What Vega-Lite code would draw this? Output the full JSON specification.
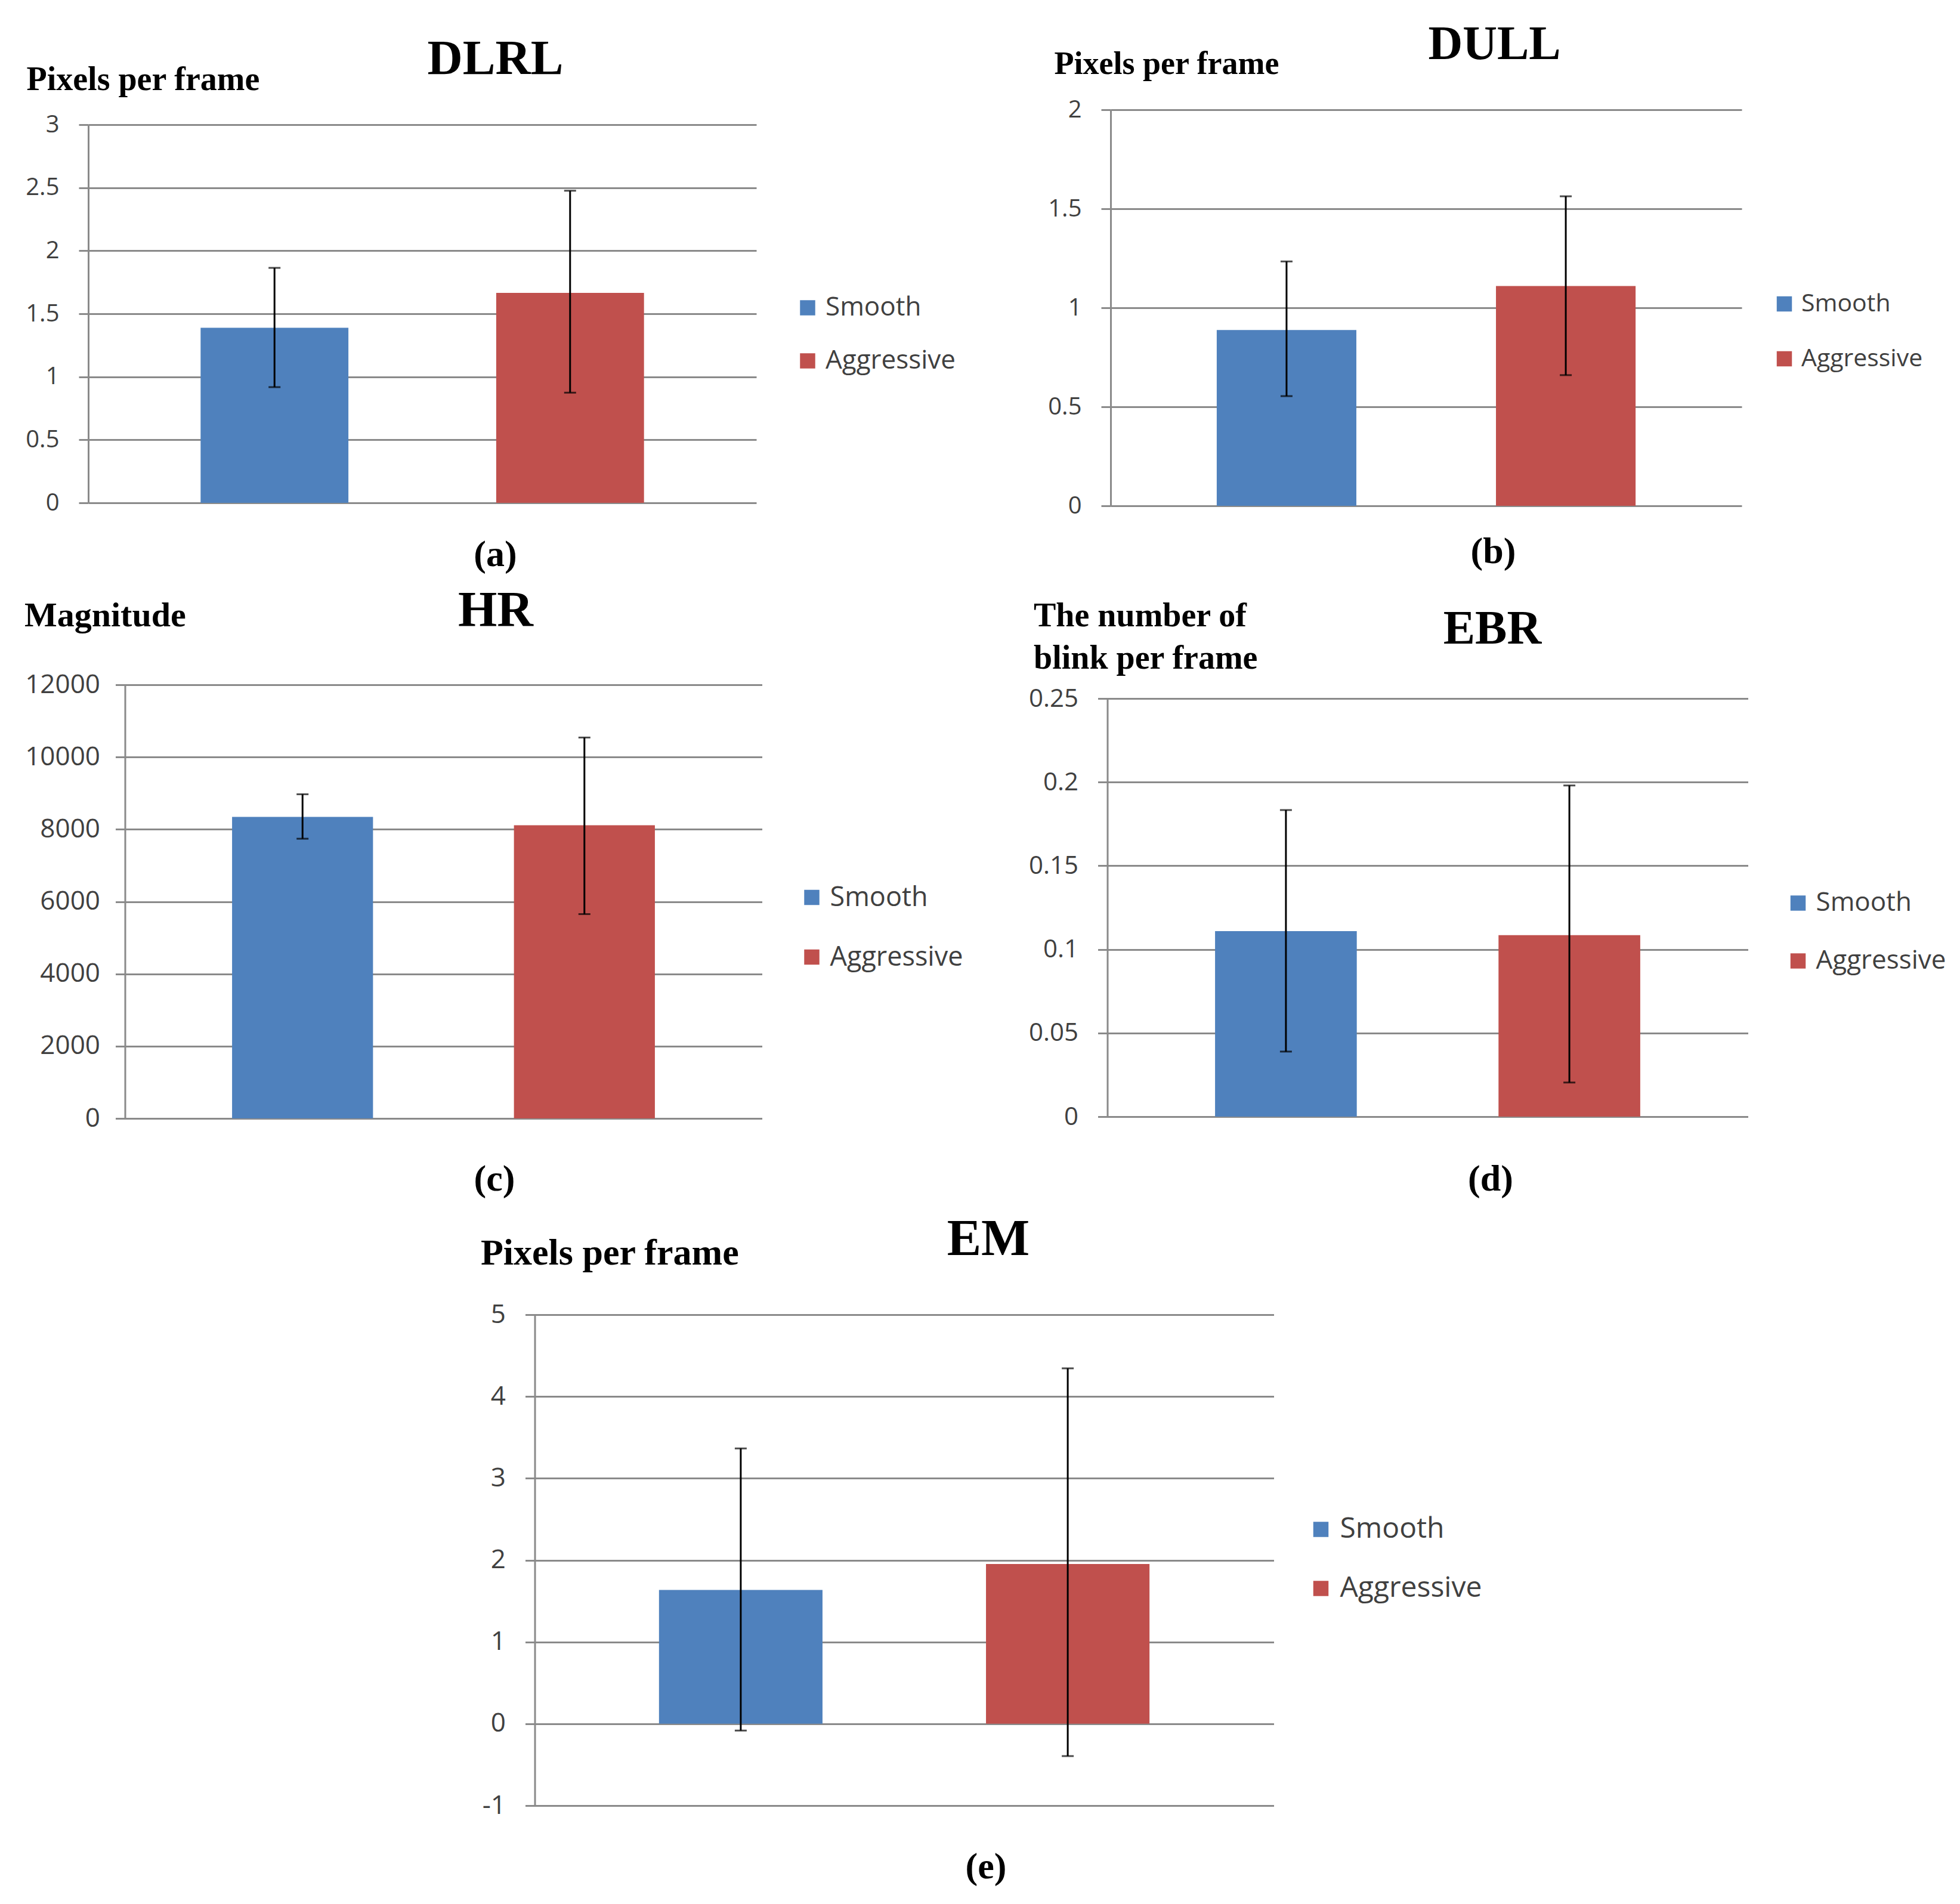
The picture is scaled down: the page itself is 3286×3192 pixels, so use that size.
{
"$schema":"https://vega.github.io/schema/vega-lite/v6.json",
"background":"white",
"padding":{"left":40,"top":34,"right":5,"bottom":5},
"datasets":{
"a":[{"series":"Smooth","mean":1.389,"lo":0.918,"hi":1.864},{"series":"Aggressive","mean":1.666,"lo":0.874,"hi":2.476}],
"b":[{"series":"Smooth","mean":0.888,"lo":0.554,"hi":1.234},{"series":"Aggressive","mean":1.110,"lo":0.660,"hi":1.563}],
"c":[{"series":"Smooth","mean":8344,"lo":7740,"hi":8970},{"series":"Aggressive","mean":8114,"lo":5654,"hi":10540}],
"d":[{"series":"Smooth","mean":0.1109,"lo":0.0389,"hi":0.1833},{"series":"Aggressive","mean":0.1085,"lo":0.0204,"hi":0.198}],
"e":[{"series":"Smooth","mean":1.635,"lo":-0.083,"hi":3.365},{"series":"Aggressive","mean":1.952,"lo":-0.395,"hi":4.344}]
},
"spacing":27,
"center":true,
"resolve":{"scale":{"x":"independent","y":"independent","color":"independent"},"legend":{"color":"independent"},"axis":{"x":"independent","y":"independent"}},
"vconcat":[
{"vconcat":[
{"hconcat":[
{"width":1120,"height":659,"data":{"name":"a"},"resolve":{"axis":{"x":"independent"}},
"layer":[
{"mark":{"type":"bar"},"encoding":{
"x":{"field":"series","type":"nominal","sort":null,"scale":{"domain":["Smooth","Aggressive"],"paddingInner":0.5,"paddingOuter":0.38},"axis":{"orient":"bottom","title":"(a)","labels":false,"ticks":false,"domain":false,"titleX":682,"titleY":105,"titleBaseline":"alphabetic","titleFontSize":62}},
"y":{"field":"mean","type":"quantitative","scale":{"domain":[0,3],"nice":false,"range":[659,25]},"axis":{"values":[0,0.5,1,1.5,2,2.5,3],"labelExpr":"''+datum.value","title":"Pixels per frame","titleX":-104,"titleY":-22,"titleFontSize":56,"labelFontSize":40}},
"color":{"field":"series","type":"nominal","scale":{"domain":["Smooth","Aggressive"],"range":["#4F81BD","#C0504D"]},"legend":{"title":null,"orient":"none","legendX":1184,"legendY":310,"labelFontSize":44,"rowPadding":45}}}},
{"mark":{"type":"rule","color":"#000","strokeWidth":3},"encoding":{
"x":{"field":"series","type":"nominal","sort":null,"axis":{"orient":"top","title":"DLRL","labels":false,"ticks":false,"domain":false,"titleX":682,"titleY":-61,"titleBaseline":"alphabetic","titleFontSize":82}},
"y":{"field":"lo","type":"quantitative"},"y2":{"field":"hi"}}},
{"mark":{"type":"tick","color":"#000","thickness":3,"size":20},"encoding":{"x":{"field":"series","type":"nominal","sort":null,"axis":null},"y":{"field":"lo","type":"quantitative"}}},
{"mark":{"type":"tick","color":"#000","thickness":3,"size":20},"encoding":{"x":{"field":"series","type":"nominal","sort":null,"axis":null},"y":{"field":"hi","type":"quantitative"}}}
]},
{"width":1058,"height":664,"data":{"name":"b"},"resolve":{"axis":{"x":"independent"}},
"layer":[
{"mark":{"type":"bar"},"encoding":{
"x":{"field":"series","type":"nominal","sort":null,"scale":{"domain":["Smooth","Aggressive"],"paddingInner":0.5,"paddingOuter":0.38},"axis":{"orient":"bottom","title":"(b)","labels":false,"ticks":false,"domain":false,"titleX":641,"titleY":95,"titleBaseline":"alphabetic","titleFontSize":62}},
"y":{"field":"mean","type":"quantitative","scale":{"domain":[0,2],"nice":false},"axis":{"values":[0,0.5,1,1.5,2],"labelExpr":"''+datum.value","title":"Pixels per frame","titleX":-95,"titleY":-50,"titleFontSize":54,"labelFontSize":40}},
"color":{"field":"series","type":"nominal","scale":{"domain":["Smooth","Aggressive"],"range":["#4F81BD","#C0504D"]},"legend":{"title":null,"orient":"none","legendX":1008,"legendY":204,"padding":101,"labelFontSize":41,"rowPadding":50}}}},
{"mark":{"type":"rule","color":"#000","strokeWidth":3},"encoding":{
"x":{"field":"series","type":"nominal","sort":null,"axis":{"orient":"top","title":"DULL","labels":false,"ticks":false,"domain":false,"titleX":643,"titleY":-86,"titleBaseline":"alphabetic","titleFontSize":80}},
"y":{"field":"lo","type":"quantitative"},"y2":{"field":"hi"}}},
{"mark":{"type":"tick","color":"#000","thickness":3,"size":20},"encoding":{"x":{"field":"series","type":"nominal","sort":null,"axis":null},"y":{"field":"lo","type":"quantitative"}}},
{"mark":{"type":"tick","color":"#000","thickness":3,"size":20},"encoding":{"x":{"field":"series","type":"nominal","sort":null,"axis":null},"y":{"field":"hi","type":"quantitative"}}}
]}
],"spacing":153,"resolve":{"scale":{"x":"independent","y":"independent","color":"independent"},"legend":{"color":"independent"},"axis":{"x":"independent","y":"independent"}}},
{"hconcat":[
{"width":1068,"height":727,"data":{"name":"c"},"resolve":{"axis":{"x":"independent"}},
"layer":[
{"mark":{"type":"bar"},"encoding":{
"x":{"field":"series","type":"nominal","sort":null,"scale":{"domain":["Smooth","Aggressive"],"paddingInner":0.5,"paddingOuter":0.38},"axis":{"orient":"bottom","title":"(c)","labels":false,"ticks":false,"domain":false,"titleX":619,"titleY":120,"titleBaseline":"alphabetic","titleFontSize":62}},
"y":{"field":"mean","type":"quantitative","scale":{"domain":[0,12000],"nice":false},"axis":{"values":[0,2000,4000,6000,8000,10000,12000],"labelExpr":"''+datum.value","title":"Magnitude","titleX":-169,"titleY":-87,"titleFontSize":58,"labelFontSize":44,"labelPadding":26}},
"color":{"field":"series","type":"nominal","scale":{"domain":["Smooth","Aggressive"],"range":["#4F81BD","#C0504D"]},"legend":{"title":null,"orient":"none","legendX":1129,"legendY":334,"labelFontSize":45,"rowPadding":54}}}},
{"mark":{"type":"rule","color":"#000","strokeWidth":3},"encoding":{
"x":{"field":"series","type":"nominal","sort":null,"axis":{"orient":"top","title":"HR","labels":false,"ticks":false,"domain":false,"titleX":621,"titleY":-99,"titleBaseline":"alphabetic","titleFontSize":84}},
"y":{"field":"lo","type":"quantitative"},"y2":{"field":"hi"}}},
{"mark":{"type":"tick","color":"#000","thickness":3,"size":20},"encoding":{"x":{"field":"series","type":"nominal","sort":null,"axis":null},"y":{"field":"lo","type":"quantitative"}}},
{"mark":{"type":"tick","color":"#000","thickness":3,"size":20},"encoding":{"x":{"field":"series","type":"nominal","sort":null,"axis":null},"y":{"field":"hi","type":"quantitative"}}}
]},
{"width":1074,"height":724,"data":{"name":"d"},"resolve":{"axis":{"x":"independent"}},
"layer":[
{"mark":{"type":"bar"},"encoding":{
"x":{"field":"series","type":"nominal","sort":null,"scale":{"domain":["Smooth","Aggressive"],"paddingInner":0.5,"paddingOuter":0.38},"axis":{"orient":"bottom","title":"(d)","labels":false,"ticks":false,"domain":false,"titleX":642,"titleY":123,"titleBaseline":"alphabetic","titleFontSize":62}},
"y":{"field":"mean","type":"quantitative","scale":{"domain":[0,0.25],"nice":false,"range":[724,23]},"axis":{"values":[0,0.05,0.1,0.15,0.2,0.25],"labelExpr":"''+datum.value","title":["The number of","blink per frame"],"titleX":-124,"titleY":-87,"titleLineHeight":71,"titleFontSize":56,"labelFontSize":42}},
"color":{"field":"series","type":"nominal","scale":{"domain":["Smooth","Aggressive"],"range":["#4F81BD","#C0504D"]},"legend":{"title":null,"orient":"none","legendX":1136,"legendY":344,"labelFontSize":44,"rowPadding":53}}}},
{"mark":{"type":"rule","color":"#000","strokeWidth":3},"encoding":{
"x":{"field":"series","type":"nominal","sort":null,"axis":{"orient":"top","title":"EBR","labels":false,"ticks":false,"domain":false,"titleX":645,"titleY":-70,"titleBaseline":"alphabetic","titleFontSize":80}},
"y":{"field":"lo","type":"quantitative"},"y2":{"field":"hi"}}},
{"mark":{"type":"tick","color":"#000","thickness":3,"size":20},"encoding":{"x":{"field":"series","type":"nominal","sort":null,"axis":null},"y":{"field":"lo","type":"quantitative"}}},
{"mark":{"type":"tick","color":"#000","thickness":3,"size":20},"encoding":{"x":{"field":"series","type":"nominal","sort":null,"axis":null},"y":{"field":"hi","type":"quantitative"}}}
]}
],"spacing":109,"resolve":{"scale":{"x":"independent","y":"independent","color":"independent"},"legend":{"color":"independent"},"axis":{"x":"independent","y":"independent"}}}
],"spacing":22,"center":true,"resolve":{"scale":{"x":"independent","y":"independent","color":"independent"},"legend":{"color":"independent"},"axis":{"x":"independent","y":"independent"}}},
{"width":1239,"height":823,"data":{"name":"e"},"resolve":{"axis":{"x":"independent"}},
"layer":[
{"mark":{"type":"bar"},"encoding":{
"x":{"field":"series","type":"nominal","sort":null,"scale":{"domain":["Smooth","Aggressive"],"paddingInner":0.5,"paddingOuter":0.38},"axis":{"orient":"bottom","title":"(e)","labels":false,"ticks":false,"domain":false,"titleX":756,"titleY":121,"titleBaseline":"alphabetic","titleFontSize":62}},
"y":{"field":"mean","type":"quantitative","scale":{"domain":[-1,5],"nice":false},"axis":{"values":[-1,0,1,2,3,4,5],"labelExpr":"''+datum.value","title":"Pixels per frame","titleX":-91,"titleY":-72,"titleFontSize":62,"labelFontSize":44}},
"color":{"field":"series","type":"nominal","scale":{"domain":["Smooth","Aggressive"],"range":["#4F81BD","#C0504D"]},"legend":{"title":null,"orient":"none","legendX":1202,"legendY":244,"padding":92,"labelFontSize":48,"rowPadding":51}}}},
{"mark":{"type":"rule","color":"#000","strokeWidth":3},"encoding":{
"x":{"field":"series","type":"nominal","sort":null,"axis":{"orient":"top","title":"EM","labels":false,"ticks":false,"domain":false,"titleX":760,"titleY":-101,"titleBaseline":"alphabetic","titleFontSize":86}},
"y":{"field":"lo","type":"quantitative"},"y2":{"field":"hi"}}},
{"mark":{"type":"tick","color":"#000","thickness":3,"size":20},"encoding":{"x":{"field":"series","type":"nominal","sort":null,"axis":null},"y":{"field":"lo","type":"quantitative"}}},
{"mark":{"type":"tick","color":"#000","thickness":3,"size":20},"encoding":{"x":{"field":"series","type":"nominal","sort":null,"axis":null},"y":{"field":"hi","type":"quantitative"}}}
]}
],
"config":{
"view":{"stroke":null},
"axis":{"gridColor":"#8a8a8a","gridWidth":3,"domainColor":"#8a8a8a","domainWidth":3,"tickColor":"#8a8a8a","tickWidth":3,"tickSize":16,"labelFont":"Open Sans","labelColor":"#404040","labelPadding":33,"titleFont":"Liberation Serif","titleFontWeight":"bold","titleColor":"#000","titleAngle":0,"titleAlign":"left"},
"axisX":{"titleAlign":"center","grid":false},
"legend":{"labelFont":"Open Sans","labelColor":"#404040","symbolType":"square","symbolSize":650,"symbolStrokeWidth":0,"labelOffset":8,"padding":0,"labelLimit":0}
}
}
